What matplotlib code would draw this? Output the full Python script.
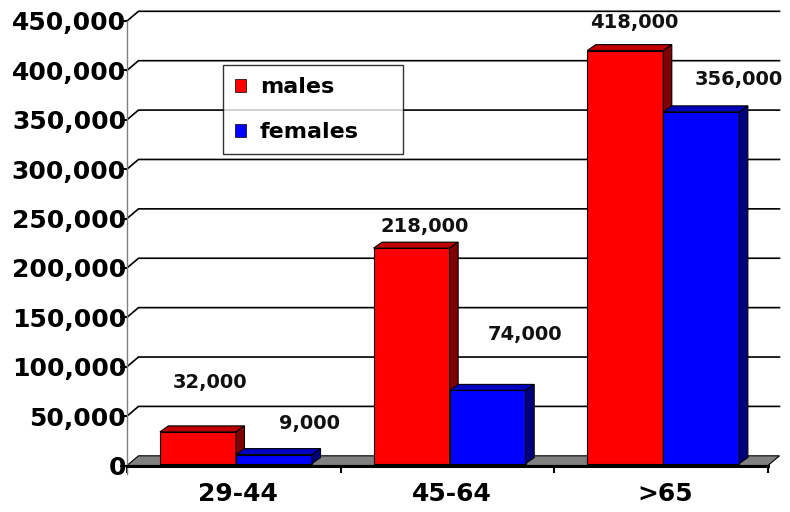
import matplotlib
matplotlib.use('Agg')
import matplotlib.pyplot as plt
from matplotlib.patches import Polygon, Patch

# ---- data ----
categories = ['29-44', '45-64', '>65']
males = [32000, 218000, 418000]
females = [9000, 74000, 356000]
series_names = ['males', 'females']
yticks = list(range(0, 450001, 50000))
ytick_labels = [f'{v:,}' for v in yticks]

# ---- style / layout ----
W, H, DPI = 790, 512, 100
fig = plt.figure(figsize=(W / DPI, H / DPI), dpi=DPI)
L, R, B, T = 127, 768, 465.5, 21
ax = fig.add_axes([L / W, 1 - B / H, (R - L) / W, (B - T) / H])
ax.set_xlim(-0.5, 2.5)
ax.set_ylim(0, 450000)
px_x = 3 / (R - L)
px_y = 450000 / (B - T)

FONT = 'DejaVu Sans'
fdx, fdy = 11.5 * px_x, 9.7 * px_y      # floor / wall depth
bdx, bdy = 8.5 * px_x, 6.0 * px_y       # bar depth
base = 2.0 * px_y

# floor
floor = Polygon([(-0.5, 0), (2.5, 0), (2.5 + fdx, fdy), (-0.5 + fdx, fdy)],
                closed=True, facecolor='#808080', edgecolor='black', lw=0.8,
                clip_on=False, zorder=1)
ax.add_patch(floor)

# back-wall gridlines
for v in yticks[1:]:
    ax.plot([-0.5, -0.5 + fdx, 2.5 + fdx], [v, v + fdy, v + fdy],
            color='black', lw=1.2, clip_on=False, zorder=1)

# bars
w = 0.356
offsets = [-0.168, 0.188]
colors = [('#FF0000', '#BF0000', '#800000'), ('#0000FF', '#0000BF', '#00007F')]
series_vals = [males, females]
label_offsets = [[(12, 49), (13.5, 22), (9, 28)],
                 [(35, 31), (37, 56), (37.5, 32)]]

for s, vals in enumerate(series_vals):
    front, top, side = colors[s]
    xs = [i + offsets[s] for i in range(len(categories))]
    ax.bar(xs, vals, width=w, bottom=base, color=front, edgecolor='black',
           linewidth=0.8, zorder=3, label=series_names[s])
    for x, v in zip(xs, vals):
        x0, x1 = x - w / 2, x + w / 2
        h = v + base
        ax.add_patch(Polygon([(x0, h), (x1, h), (x1 + bdx, h + bdy), (x0 + bdx, h + bdy)],
                             closed=True, facecolor=top, edgecolor='black', lw=0.8,
                             zorder=3, clip_on=False))
        ax.add_patch(Polygon([(x1, base), (x1, h), (x1 + bdx, h + bdy), (x1 + bdx, base + bdy)],
                             closed=True, facecolor=side, edgecolor='black', lw=0.8,
                             zorder=3, clip_on=False))
    for x, v, (ox, oy) in zip(xs, vals, label_offsets[s]):
        ax.annotate(f'{v:,}', xy=(x, v + base), xytext=(ox * 0.72, oy * 0.72),
                    textcoords='offset points', ha='center', va='center',
                    fontsize=14, fontweight='bold', family=FONT,
                    color='#111111', annotation_clip=False, zorder=5)

# axes / spines
for sp in ['top', 'right']:
    ax.spines[sp].set_visible(False)
ax.spines['left'].set_color('#808080')
ax.spines['left'].set_linewidth(1.0)
ax.spines['left'].set_bounds(-8 * px_y, 450000)
ax.spines['bottom'].set_color('black')
ax.spines['bottom'].set_linewidth(2.2)
ax.spines['bottom'].set_zorder(4)

ax.set_yticks(yticks)
ax.set_yticklabels(ytick_labels, fontsize=18, fontweight='bold', family=FONT)
ax.tick_params(axis='y', length=5, width=1.5, color='black', pad=-4.3)
for lab in ax.get_yticklabels():
    lab.set_zorder(6)

ax.set_xticks([i + 0.02 for i in range(len(categories))])
ax.set_xticklabels(categories, fontsize=18, fontweight='bold', family=FONT)
ax.tick_params(axis='x', which='major', length=0, pad=12)
ax.set_xticks([-0.5, 0.5, 1.5, 2.5], minor=True)
ax.tick_params(axis='x', which='minor', length=5, width=1.5, color='black')

# legend
handles = [Patch(facecolor=colors[i][0], edgecolor='black', lw=0.5) for i in range(2)]
leg = ax.legend(handles, series_names, loc='upper left',
                bbox_to_anchor=((223 - L) / (R - L), (B - 65) / (B - T) - 0.2, 180 / (R - L), 0.2),
                mode='expand', prop={'family': FONT, 'weight': 'bold', 'size': 16},
                frameon=True, fancybox=False, shadow=False, borderpad=0.55,
                handlelength=0.5, handleheight=0.5, handletextpad=0.6,
                labelspacing=1.12, borderaxespad=0)
leg.get_frame().set_edgecolor('black')
leg.get_frame().set_linewidth(1.0)
leg.set_zorder(7)

fig.savefig('out.png', dpi=DPI, facecolor='white')
